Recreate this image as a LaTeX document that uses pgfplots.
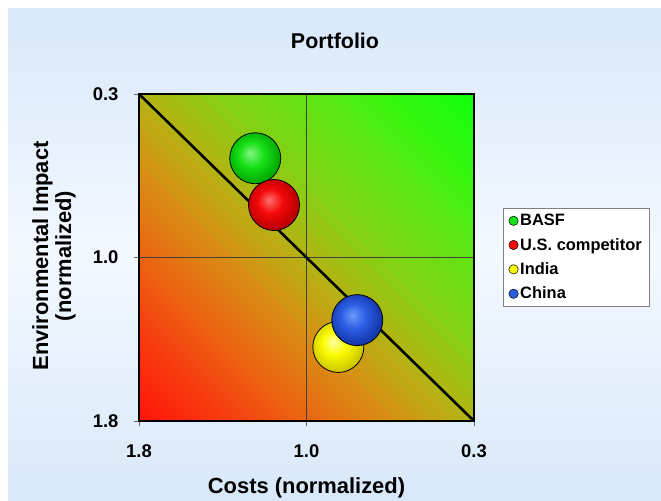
\documentclass[border=0pt]{standalone}
\usepackage{pgfplots}
\pgfplotsset{compat=1.18}
\usepackage{fontspec}
\setmainfont{Liberation Sans}
\definecolor{bgblue}{RGB}{216,232,249}
\definecolor{bgwhite}{RGB}{243,248,255}
\definecolor{bgreen}{RGB}{25,225,25}
\definecolor{bred}{RGB}{245,10,10}
\definecolor{byellow}{RGB}{250,250,0}
\definecolor{bblue}{RGB}{45,95,230}
\pgfdeclareverticalshading{diagsh}{100bp}{color(0bp)=(rgb,255:red,255;green,20;blue,10); color(14.64bp)=(rgb,255:red,255;green,20;blue,10); color(25.25bp)=(rgb,255:red,245;green,65;blue,15); color(32.3bp)=(rgb,255:red,235;green,100;blue,18); color(42.2bp)=(rgb,255:red,215;green,145;blue,20); color(50bp)=(rgb,255:red,178;green,180;blue,20); color(58.5bp)=(rgb,255:red,130;green,210;blue,20); color(67.7bp)=(rgb,255:red,95;green,228;blue,18); color(74.8bp)=(rgb,255:red,60;green,245;blue,15); color(85.36bp)=(rgb,255:red,15;green,255;blue,10); color(100bp)=(rgb,255:red,15;green,255;blue,10)}
\pgfdeclareradialshading{shG}{\pgfpoint{-5bp}{5bp}}{color(0bp)=(rgb,255:red,130;green,245;blue,130); color(12bp)=(bgreen); color(26bp)=(rgb,255:red,0;green,170;blue,0); color(50bp)=(rgb,255:red,0;green,150;blue,0)}
\pgfdeclareradialshading{shR}{\pgfpoint{-5bp}{5bp}}{color(0bp)=(rgb,255:red,255;green,110;blue,110); color(12bp)=(bred); color(26bp)=(rgb,255:red,185;green,0;blue,0); color(50bp)=(rgb,255:red,160;green,0;blue,0)}
\pgfdeclareradialshading{shY}{\pgfpoint{-5bp}{5bp}}{color(0bp)=(rgb,255:red,255;green,255;blue,160); color(12bp)=(byellow); color(26bp)=(rgb,255:red,205;green,200;blue,0); color(50bp)=(rgb,255:red,180;green,175;blue,0)}
\pgfdeclareradialshading{shB}{\pgfpoint{-5bp}{5bp}}{color(0bp)=(rgb,255:red,110;green,155;blue,250); color(12bp)=(bblue); color(26bp)=(rgb,255:red,20;green,55;blue,170); color(50bp)=(rgb,255:red,10;green,40;blue,140)}
\pgfdeclareplotmark{ballG}{\pgfpathcircle{\pgfpointorigin}{\pgfplotmarksize}\pgfshadepath{shG}{0}\pgfusepath{discard}\pgfpathcircle{\pgfpointorigin}{\pgfplotmarksize}\pgfusepathqstroke}
\pgfdeclareplotmark{ballR}{\pgfpathcircle{\pgfpointorigin}{\pgfplotmarksize}\pgfshadepath{shR}{0}\pgfusepath{discard}\pgfpathcircle{\pgfpointorigin}{\pgfplotmarksize}\pgfusepathqstroke}
\pgfdeclareplotmark{ballY}{\pgfpathcircle{\pgfpointorigin}{\pgfplotmarksize}\pgfshadepath{shY}{0}\pgfusepath{discard}\pgfpathcircle{\pgfpointorigin}{\pgfplotmarksize}\pgfusepathqstroke}
\pgfdeclareplotmark{ballB}{\pgfpathcircle{\pgfpointorigin}{\pgfplotmarksize}\pgfshadepath{shB}{0}\pgfusepath{discard}\pgfpathcircle{\pgfpointorigin}{\pgfplotmarksize}\pgfusepathqstroke}
\begin{document}
\begin{tikzpicture}
\fill[white] (-139bp,421bp) rectangle (522bp,-79bp);
\shade[top color=bgblue, bottom color=bgblue, middle color=bgwhite] (-131bp,412bp) rectangle (522bp,-79bp);
\node[font=\bfseries\fontsize{21.5}{24}\selectfont] at (196bp,380bp) {Portfolio};
\begin{axis}[
  scale only axis,
  width=335bp, height=327bp,
  xmin=-1, xmax=1, ymin=-1, ymax=1,
  axis line style={line width=2.4bp, black},
  axis background/.style={shading=diagsh, shading angle=-45},
  xtick={-1,0,1}, xticklabels={1.8,1.0,0.3},
  ytick={-1,0,1}, yticklabels={1.8,1.0,0.3},
  xtick pos=bottom, ytick pos=left,
  tick align=outside, major tick length=5bp,
  tick style={black!60, line width=0.6bp},
  grid=major, major grid style={black!75, line width=0.6bp},
  ticklabel style={font=\bfseries\fontsize{18.5}{20}\selectfont},
  xticklabel style={yshift=-15bp},
  yticklabel style={xshift=-12bp},
  xlabel={Costs (normalized)},
  xlabel style={at={(axis description cs:0.5,-0.203)}, anchor=center, font=\bfseries\fontsize{22}{26}\selectfont},
  ylabel={Environmental Impact\\(normalized)},
  ylabel style={at={(axis description cs:-0.254,0.505)}, anchor=center, align=center, font=\bfseries\fontsize{22}{23}\selectfont},
  legend style={at={(axis description cs:1.087,0.651)}, anchor=north west, draw=black!50, fill=white,
    font=\bfseries\fontsize{16.5}{18}\selectfont, row sep=7bp, inner xsep=5.5bp, inner ysep=4bp},
  legend cell align=left,
  clip=false,
]
\addlegendimage{only marks, mark=*, mark size=4.7bp, mark options={fill=bgreen, draw=black, line width=0.5bp}}
\addlegendentry{BASF}
\addlegendimage{only marks, mark=*, mark size=4.7bp, mark options={fill=bred, draw=black, line width=0.5bp}}
\addlegendentry{U.S. competitor}
\addlegendimage{only marks, mark=*, mark size=4.7bp, mark options={fill=byellow, draw=black, line width=0.5bp}}
\addlegendentry{India}
\addlegendimage{only marks, mark=*, mark size=4.7bp, mark options={fill=bblue, draw=black, line width=0.5bp}}
\addlegendentry{China}
% BASF
\addplot[only marks, mark=ballG, mark size=25.5bp, mark options={draw=black, line width=0.8bp}, forget plot] coordinates {(-0.306,0.607)};
% U.S. competitor
\addplot[only marks, mark=ballR, mark size=25.5bp, mark options={draw=black, line width=0.8bp}, forget plot] coordinates {(-0.194,0.321)};
% India
\addplot[only marks, mark=ballY, mark size=25.5bp, mark options={draw=black, line width=0.8bp}, forget plot] coordinates {(0.19,-0.547)};
% China
\addplot[only marks, mark=ballB, mark size=25.5bp, mark options={draw=black, line width=0.8bp}, forget plot] coordinates {(0.303,-0.383)};
% diagonal
\addplot[black, line width=2.6bp, forget plot] coordinates {(-1,1) (1,-1)};
\end{axis}
\end{tikzpicture}
\end{document}
